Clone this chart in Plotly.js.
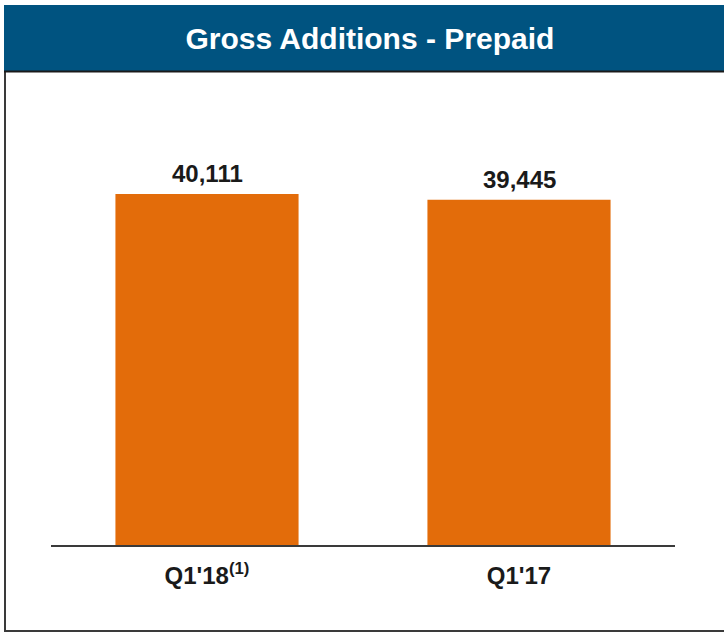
<!DOCTYPE html>
<html>
<head>
<meta charset="utf-8">
<script src="https://cdn.plot.ly/plotly-3.0.1.min.js"></script>
<style>html,body{margin:0;padding:0;background:#fff;}#chart{width:724px;height:634px;}</style>
</head>
<body>
<div id="chart"></div>
<script>
const categories = ["Q1'18<sup>(1)</sup>", "Q1'17"];
const grossAdditions = [40111, 39445];
const chartTitle = "Gross Additions - Prepaid";

const L = 51, R = 49, T = 90, B = 89;
const W = 724 - L - R, H = 634 - T - B;
const px = x => (x - L) / W;
const py = y => (634 - B - y) / H;
const FONT = 'Liberation Sans, Arial, sans-serif';

const trace = {
  type: 'bar',
  x: categories,
  y: grossAdditions,
  marker: {color: '#E36C0A'},
  hoverinfo: 'none'
};

const valueLabels = categories.map((c, i) => ({
  x: c, y: grossAdditions[i], xref: 'x', yref: 'y',
  text: grossAdditions[i].toLocaleString('en-US'),
  showarrow: false, yanchor: 'bottom', yshift: 5,
  font: {family: FONT, size: 24, color: '#1a1a1a', weight: 'bold'}
}));

const layout = {
  width: 724, height: 634,
  margin: {l: L, r: R, t: T, b: B},
  paper_bgcolor: '#ffffff', plot_bgcolor: '#ffffff',
  showlegend: false,
  bargap: 0.413,
  title: {
    text: chartTitle,
    font: {family: FONT, size: 30, color: '#ffffff', weight: 'bold'},
    x: 0.511, xref: 'paper', xanchor: 'center',
    y: 1 - 38 / 634, yref: 'container', yanchor: 'middle'
  },
  xaxis: {
    range: [-0.5, 1.5],
    showline: true, linecolor: '#3a3a3a', linewidth: 2,
    showgrid: false, zeroline: false, ticks: '',
    tickfont: {family: FONT, size: 24, color: '#1a1a1a', weight: 'bold'},
    ticklabelstandoff: 8,
    fixedrange: true
  },
  yaxis: {
    range: [0, 52000],
    visible: false, showgrid: false, zeroline: false,
    fixedrange: true
  },
  annotations: valueLabels,
  shapes: [
    {type: 'rect', xref: 'paper', yref: 'paper', layer: 'below',
     x0: px(5), x1: px(740), y0: py(631), y1: py(71),
     line: {color: '#3a3a3a', width: 2}, fillcolor: 'rgba(0,0,0,0)'},
    {type: 'rect', xref: 'paper', yref: 'paper', layer: 'below',
     x0: px(4), x1: px(740), y0: py(71), y1: py(5),
     line: {width: 0}, fillcolor: '#005380'},
    {type: 'line', xref: 'paper', yref: 'paper', layer: 'below',
     x0: px(4), x1: px(740), y0: py(71.5), y1: py(71.5),
     line: {color: '#1a1a1a', width: 2}}
  ]
};

Plotly.newPlot('chart', [trace], layout, {displayModeBar: false, staticPlot: true});
</script>
</body>
</html>
